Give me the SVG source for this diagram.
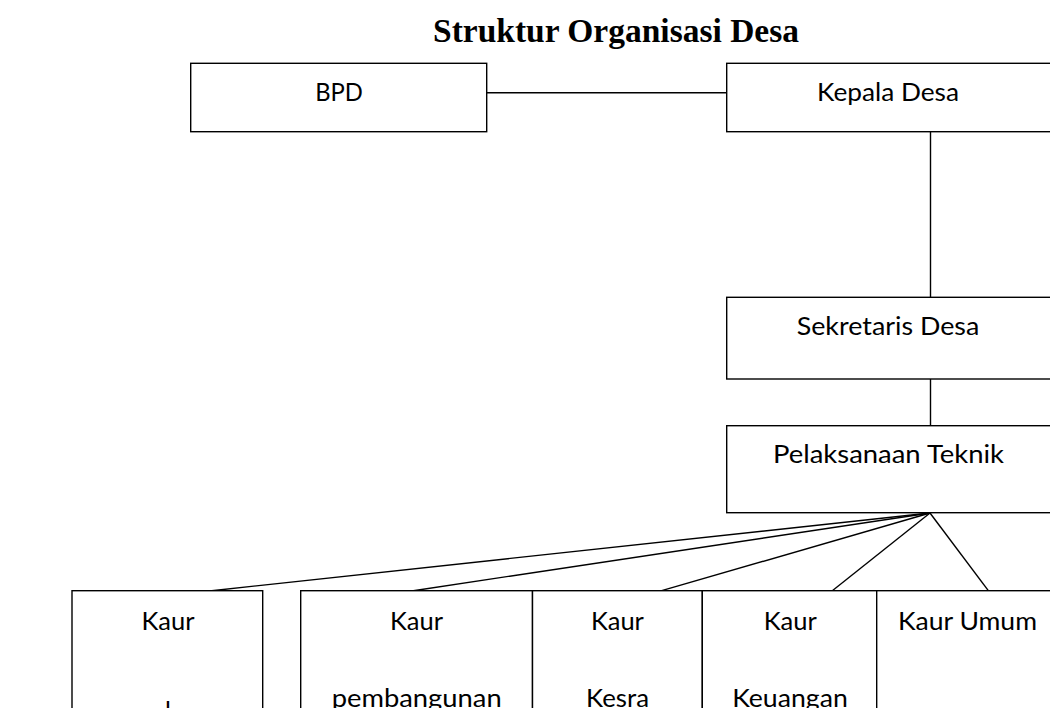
<svg xmlns="http://www.w3.org/2000/svg" width="1050" height="708" viewBox="0 0 1050 708">
<style>
.box{fill:#fff;stroke:#000;stroke-width:1.4}
.ln{fill:none;stroke:#000;stroke-width:1.4}
.lb{font-family:Lato,"Liberation Sans",sans-serif;font-size:25px;fill:#000;text-anchor:middle}
.title{font-family:"Liberation Serif","Times New Roman",serif;font-weight:bold;font-size:33px;fill:#000;text-anchor:middle}
</style>
<rect width="1050" height="708" fill="#fff"/>
<text class="title" x="616" y="42" textLength="366" lengthAdjust="spacingAndGlyphs">Struktur Organisasi Desa</text>
<g id="connectors">
<line class="ln" x1="486.7" y1="92.7" x2="726.7" y2="92.7"/>
<line class="ln" x1="930.5" y1="131.7" x2="930.5" y2="297.3"/>
<line class="ln" x1="930.5" y1="379" x2="930.5" y2="425.7"/>
<line class="ln" x1="930" y1="513" x2="211.7" y2="590.7"/>
<line class="ln" x1="930" y1="513" x2="413.3" y2="590.7"/>
<line class="ln" x1="930" y1="513" x2="661.7" y2="590.7"/>
<line class="ln" x1="930" y1="513" x2="832.3" y2="590.7"/>
<line class="ln" x1="930" y1="513" x2="988.3" y2="590.7"/>
</g>
<g id="bpd">
<rect class="box" x="190.7" y="63.3" width="296" height="68.4"/>
<text class="lb" x="339" y="101" textLength="47.7" lengthAdjust="spacingAndGlyphs">BPD</text>
</g>
<g id="kepala-desa">
<rect class="box" x="726.7" y="63.3" width="330" height="68.4"/>
<text class="lb" x="888" y="101" textLength="142" lengthAdjust="spacingAndGlyphs">Kepala Desa</text>
</g>
<g id="sekretaris-desa">
<rect class="box" x="726.7" y="297.3" width="330" height="81.7"/>
<text class="lb" x="888" y="335" textLength="182.6" lengthAdjust="spacingAndGlyphs">Sekretaris Desa</text>
</g>
<g id="pelaksanaan-teknik">
<rect class="box" x="726.7" y="425.7" width="330" height="87"/>
<text class="lb" x="888.5" y="463" textLength="231" lengthAdjust="spacingAndGlyphs">Pelaksanaan Teknik</text>
</g>
<g id="kaur-1">
<rect class="box" x="72" y="590.7" width="190.7" height="140"/>
<text class="lb" x="168" y="630" textLength="53" lengthAdjust="spacingAndGlyphs">Kaur</text>
<text class="lb" x="168" y="720">l</text>
</g>
<g id="kaur-pembangunan">
<rect class="box" x="300.7" y="590.7" width="231.8" height="140"/>
<text class="lb" x="416.5" y="630" textLength="53" lengthAdjust="spacingAndGlyphs">Kaur</text>
<text class="lb" x="416.7" y="707" textLength="170" lengthAdjust="spacingAndGlyphs">pembangunan</text>
</g>
<g id="kaur-kesra">
<rect class="box" x="532.5" y="590.7" width="169.8" height="140"/>
<text class="lb" x="617.4" y="630" textLength="53" lengthAdjust="spacingAndGlyphs">Kaur</text>
<text class="lb" x="617.5" y="707" textLength="63" lengthAdjust="spacingAndGlyphs">Kesra</text>
</g>
<g id="kaur-keuangan">
<rect class="box" x="702.3" y="590.7" width="174.4" height="140"/>
<text class="lb" x="790.3" y="630" textLength="53" lengthAdjust="spacingAndGlyphs">Kaur</text>
<text class="lb" x="790" y="707" textLength="115.7" lengthAdjust="spacingAndGlyphs">Keuangan</text>
</g>
<g id="kaur-umum">
<rect class="box" x="876.7" y="590.7" width="180" height="140"/>
<text class="lb" x="967.5" y="630" textLength="139" lengthAdjust="spacingAndGlyphs">Kaur Umum</text>
</g>
</svg>
